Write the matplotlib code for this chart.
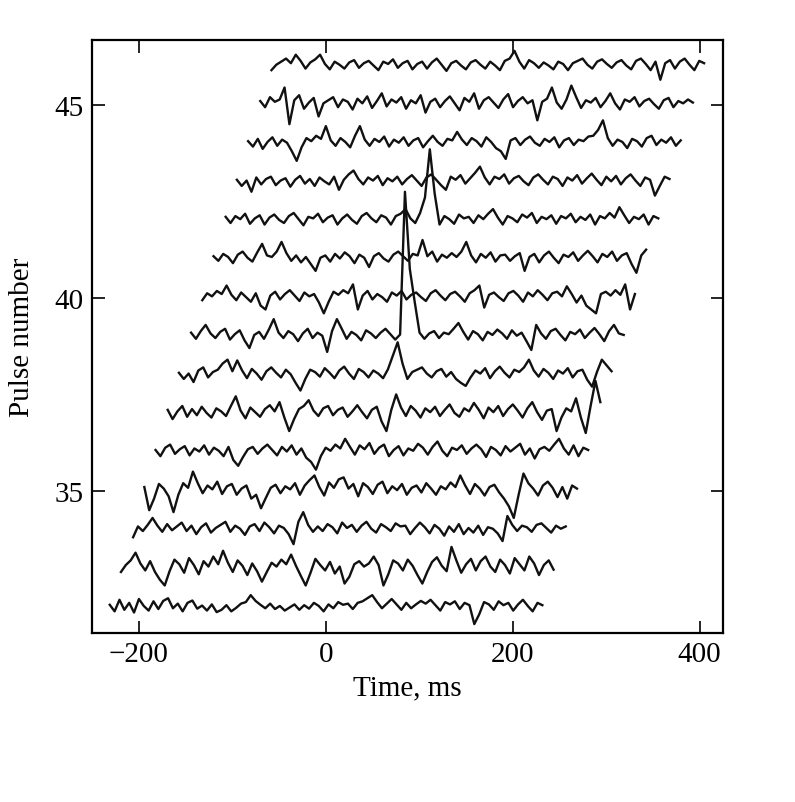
import matplotlib
matplotlib.use('Agg')
import matplotlib.pyplot as plt
import numpy as np

plt.rcParams['font.family'] = ['Liberation Serif', 'DejaVu Serif']

# pulse numbers and start time (ms) of each trace, bottom to top
pulse_numbers = [32, 33, 34, 35, 36, 37, 38, 39, 40, 41, 42, 43, 44, 45, 46]
start_ms = [-231, -219, -206, -194, -182, -169, -157, -144, -132, -120,
            -107, -95, -83, -70, -58]
sample_ms = 5.2

# signal of each pulse, in hundredths of a row
pulse_32 = [5, -12, 18, -8, 10, -15, 20, 2, -10, 14,
            -6, 15, 22, -4, 8, -12, 10, 16, -5, 3,
            -10, 6, -14, -8, 4, -12, -3, 8, 12, 30,
            15, 5, -4, 8, -6, 2, -10, -2, 6, -8,
            4, -5, 10, 2, -12, 6, -4, 12, 5, 8,
            -6, 10, 14, 22, 30, 12, -4, 8, 20, 6,
            -8, 10, -4, 6, 15, 8, 18, 4, -10, 12,
            6, 14, -6, 10, 4, -45, -20, 12, 6, -8,
            14, 4, 10, -10, 6, 18, 2, -12, 10, 4]
pulse_33 = [-10, 8, 20, 40, 12, -6, 18, -10, -30, -45,
            -8, 22, 10, -12, 26, 8, -16, 18, 4, 30,
            10, 45, 14, -10, 20, 6, -18, 12, -8, -35,
            -10, 14, 4, 22, 10, 35, 6, -20, -45, -12,
            24, 8, -6, 16, -14, 4, -40, -22, 10, 18,
            4, 12, 30, 8, -45, -16, 20, 12, -6, 22,
            6, -18, -40, -10, 16, 28, 6, -8, 55, 20,
            -12, 10, 24, -6, 18, 30, 4, -10, 22, 8,
            -14, 26, 10, -6, 30, 12, -18, 8, 20, -4]
pulse_34 = [-20, 8, -4, 12, 30, 10, -6, 14, -2, 8,
            18, -4, 10, -12, 6, 16, -8, 4, 12, 20,
            -6, 10, 2, -14, 8, 14, -4, 18, 6, -10,
            10, 4, -12, -38, 20, 45, 12, -6, 8, -4,
            14, 6, -10, 18, 4, 12, -6, 10, 20, 2,
            -8, 14, 6, -4, 16, 8, 10, -12, 4, 18,
            6, -10, 12, 2, -16, 8, -6, 14, -12, 4,
            -8, 10, -14, 6, 2, -10, -30, 35, 12, -4,
            10, 6, -6, 12, 16, 4, -8, 10, 2, 8]
pulse_35 = [10, -50, -20, 18, 6, -14, -55, -10, 20, 8,
            50, 20, -6, 14, 4, 24, -8, 12, 18, -10,
            6, 14, -20, -10, -45, -18, 8, 16, -6, 12,
            4, 20, -10, 14, 28, 40, 10, -12, 22, 8,
            30, 35, 6, 18, -14, 20, 10, -8, 16, 24,
            -6, 12, 2, 18, -10, 8, 14, -4, 20, 6,
            -10, 12, 4, 22, 10, 40, 14, -8, 18, 6,
            -12, 10, 16, -4, -20, -40, -70, -10, 45, 20,
            6, -12, 14, 24, 8, -16, 10, -20, 14, 6]
pulse_36 = [6, -10, 12, 20, -4, 8, 16, -8, 10, 2,
            18, -6, 12, 4, -10, 14, -20, -35, -12, 8,
            14, -4, 10, 20, 6, -8, 14, 2, 18, -6,
            10, -14, -25, -45, -10, 12, 4, 20, 10, 35,
            14, -6, 18, 8, 24, -4, 12, 20, -10, 6,
            16, -8, 10, 4, 22, 12, -6, 14, 28, 4,
            -10, 12, 6, 18, -4, 10, 20, 8, -12, 14,
            6, -8, 16, 2, 12, 22, -6, 10, -16, 8,
            14, 4, 20, 35, 10, -6, 18, -10, 12, 6]
pulse_37 = [10, -14, 6, 20, -8, 12, -4, 18, 2, -10,
            14, 6, -6, 20, 45, 8, -12, 16, 4, -8,
            12, 22, 6, 30, -10, -45, -14, 12, 20, 35,
            8, -6, 14, 20, -4, 10, 16, -8, 6, 22,
            4, -12, 10, 18, -20, -45, 10, 50, 16, -6,
            20, 8, -10, 14, 4, 18, -6, 10, 24, 2,
            -8, 14, 6, 28, 10, -12, 16, 4, 20, -6,
            12, 24, 8, -10, 14, 30, 4, -16, 8, 12,
            -45, -10, 14, 6, 40, -10, -50, 20, 85, 30]
pulse_38 = [6, -10, 4, -18, 12, 20, -6, 8, 14, 30,
            40, 10, 38, 12, -8, 16, 4, -12, 10, 20,
            6, -6, 14, 2, -20, -40, -10, 14, 8, -4,
            18, 6, -8, 12, 22, 4, -10, 16, 8, -6,
            12, 4, -8, 15, 50, 85, 30, -10, 8, 14,
            20, 4, -6, 10, 16, -4, 8, -10, -20, -28,
            -6, 12, 4, 18, -8, 10, 22, 6, -6, 14,
            8, 20, 40, 12, -4, 16, 6, -10, 12, 4,
            18, -6, 10, 14, -12, -30, 8, 40, 25, 10]
pulse_39 = [10, -6, 14, 30, 8, -4, 12, 20, -8, 6,
            16, -10, -30, 4, 12, -6, 18, 45, 10, -4,
            14, 6, -12, 8, 20, -4, 10, 2, -40, 14,
            45, 20, -6, 12, 4, -10, 16, 8, -4, 10,
            20, 6, -8, 5, 375, 175, 90, 10, -6, 8,
            14, -4, 10, 6, 20, 35, 12, -8, 14, 6,
            -10, 12, 4, 18, 8, -6, 16, 2, 10, -12,
            -35, 30, 8, -6, 14, 20, 4, -10, 12, 6,
            18, -4, 10, 22, 6, -12, 14, 30, 8, 4]
pulse_40 = [-6, 12, 4, 18, 10, 32, 8, -6, 14, 2,
            -10, 12, -20, -30, 6, 16, -4, 10, 20, 6,
            -8, 14, 4, 10, -12, -40, -10, 16, 8, 20,
            12, 35, -30, 6, 18, -4, 10, 2, -10, 14,
            6, 18, -4, 8, 14, 2, -8, 12, 20, 6,
            -6, 10, 16, 4, -10, 12, 20, 32, -25, 8,
            14, 2, -8, 12, 18, 6, -10, 14, 4, 20,
            8, -6, 12, 16, 4, 30, 10, -12, 6, -20,
            -30, -40, 10, 16, 6, 20, 8, 35, -30, 10]
pulse_41 = [8, -4, 14, 6, -10, 12, 20, 4, -6, 18,
            40, 10, 6, 20, 45, 16, -4, 10, -8, 6,
            -12, -30, 4, 10, -6, 14, 2, 18, 8, -10,
            12, 4, -20, 8, 16, 2, -6, 12, 20, 8,
            -4, 14, 10, 50, 8, 20, -6, 12, 4, 16,
            6, 20, 45, 10, -8, 14, 4, 18, -6, 10,
            12, -4, 8, 16, -30, 6, 14, -8, 10, 20,
            4, -10, 12, 6, 18, -4, 10, 22, 8, -8,
            14, 6, 20, -4, 10, 16, -12, -35, 10, 25]
pulse_42 = [10, -6, 12, 4, 18, -8, 6, 14, -10, 8,
            16, 2, -6, 12, 20, 4, -12, 10, 6, 18,
            -4, 8, 14, -10, 6, 16, 2, -8, 12, 20,
            6, -4, 14, 8, -10, 12, 18, 30, 6, -6,
            20, 60, 185, 70, -10, 12, 4, -8, 16, 6,
            10, -6, 14, 4, 18, 30, 8, -10, 12, 6,
            -4, 16, 8, 20, -6, 10, 4, 14, -8, 12,
            6, 18, -4, 10, 2, 16, -10, 12, 6, 20,
            8, 35, 14, -6, 10, 4, 16, -10, 12, 6]
pulse_43 = [6, -10, 4, -25, 12, -6, 8, 14, -8, 4,
            10, -12, 6, 16, -4, 8, -10, 12, 2, -6,
            14, -20, 6, 20, 30, 8, -6, 12, 4, 16,
            -8, 10, 2, 14, -6, 8, 18, 4, -10, 12,
            20, 6, -8, -20, 14, 6, 18, -4, 10, 24,
            40, 12, -6, 14, 8, 20, -4, 10, 16, 2,
            -8, 12, 20, 6, -6, 14, 8, -10, 12, 4,
            18, -4, 10, 22, 6, -8, 14, 2, 16, -6,
            10, 20, 4, -10, 12, 6, -35, -10, 14, 8]
pulse_44 = [6, -8, 12, -14, 4, 16, -6, 10, 2, -20,
            -45, -10, 14, 6, 20, 12, 45, 8, -6, 14,
            4, -10, 20, 45, 10, -6, 12, 4, 18, -8,
            10, 2, 16, -6, 8, 14, -10, 6, 20, 4,
            -6, 12, 8, 30, 10, -4, 14, 6, -8, 16,
            4, -12, -20, -40, 8, 14, -4, 10, 18, 2,
            -6, 12, 4, 16, -10, 8, 14, -4, 10, 6,
            18, 20, 35, 60, 14, -6, 10, 4, -12, 12,
            6, -8, 14, 20, -4, 10, 2, 16, -6, 8]
pulse_45 = [10, -6, 20, 8, 14, 45, -50, 12, 25, -10,
            6, 18, -30, 4, 12, 20, -6, 14, 8, -12,
            16, 4, 22, -8, 10, 30, -4, 14, 6, 20,
            -10, 12, 4, 25, -20, 8, 16, -6, 10, 22,
            4, -14, 18, 8, 30, -10, 12, 20, 6, -8,
            14, 28, -6, 10, 20, 4, 12, -40, 8, 16,
            45, 6, -10, 14, 50, 20, -8, 12, 6, 18,
            -6, 10, 30, 4, -12, 14, 8, 20, -4, 10,
            16, 2, -10, 12, 18, -6, 10, 4, 14, 6]
pulse_46 = [-10, 4, 12, 20, 8, 30, 14, -6, 10, 18,
            30, 6, -8, 12, 4, -6, 10, 16, -4, 8,
            14, 2, -10, 12, 6, 18, -4, 8, 14, -8,
            6, 12, -6, 10, 20, 4, -12, 8, 14, 2,
            -8, 10, 16, 4, -6, 12, 2, -10, 14, 20,
            40, 12, -6, 16, 8, -4, 10, 2, -8, 12,
            6, -10, 8, 14, 20, 4, -6, 12, 18, 6,
            -4, 10, 16, 2, -8, 14, 20, 6, -10, 12,
            -35, 8, 16, -6, 12, 20, 4, -10, 14, 8]

traces = [pulse_32, pulse_33, pulse_34, pulse_35, pulse_36, pulse_37, pulse_38,
          pulse_39, pulse_40, pulse_41, pulse_42, pulse_43, pulse_44, pulse_45,
          pulse_46]

fig = plt.figure(figsize=(7.95, 8.03), dpi=100)
ax = fig.add_axes([0.1157, 0.2105, 0.7937, 0.7384])

for n, t0, vals in zip(pulse_numbers, start_ms, traces):
    t = t0 + sample_ms * np.arange(len(vals))
    ax.plot(t, n + np.array(vals) / 100.0, color='#111111', lw=1.7)

ax.set_xlim(-250, 425)
ax.set_ylim(31.32, 46.68)
ax.set_xticks([-200, 0, 200, 400])
ax.set_yticks([35, 40, 45])
ax.tick_params(direction='in', length=9, width=1.2, labelsize=21,
               top=True, right=True, pad=6)
for s in ax.spines.values():
    s.set_linewidth(1.6)

ax.set_xlabel('Time, ms', fontsize=21, labelpad=5)
ax.set_ylabel('Pulse number', fontsize=21, labelpad=14)

plt.savefig('out.png', dpi=100)
